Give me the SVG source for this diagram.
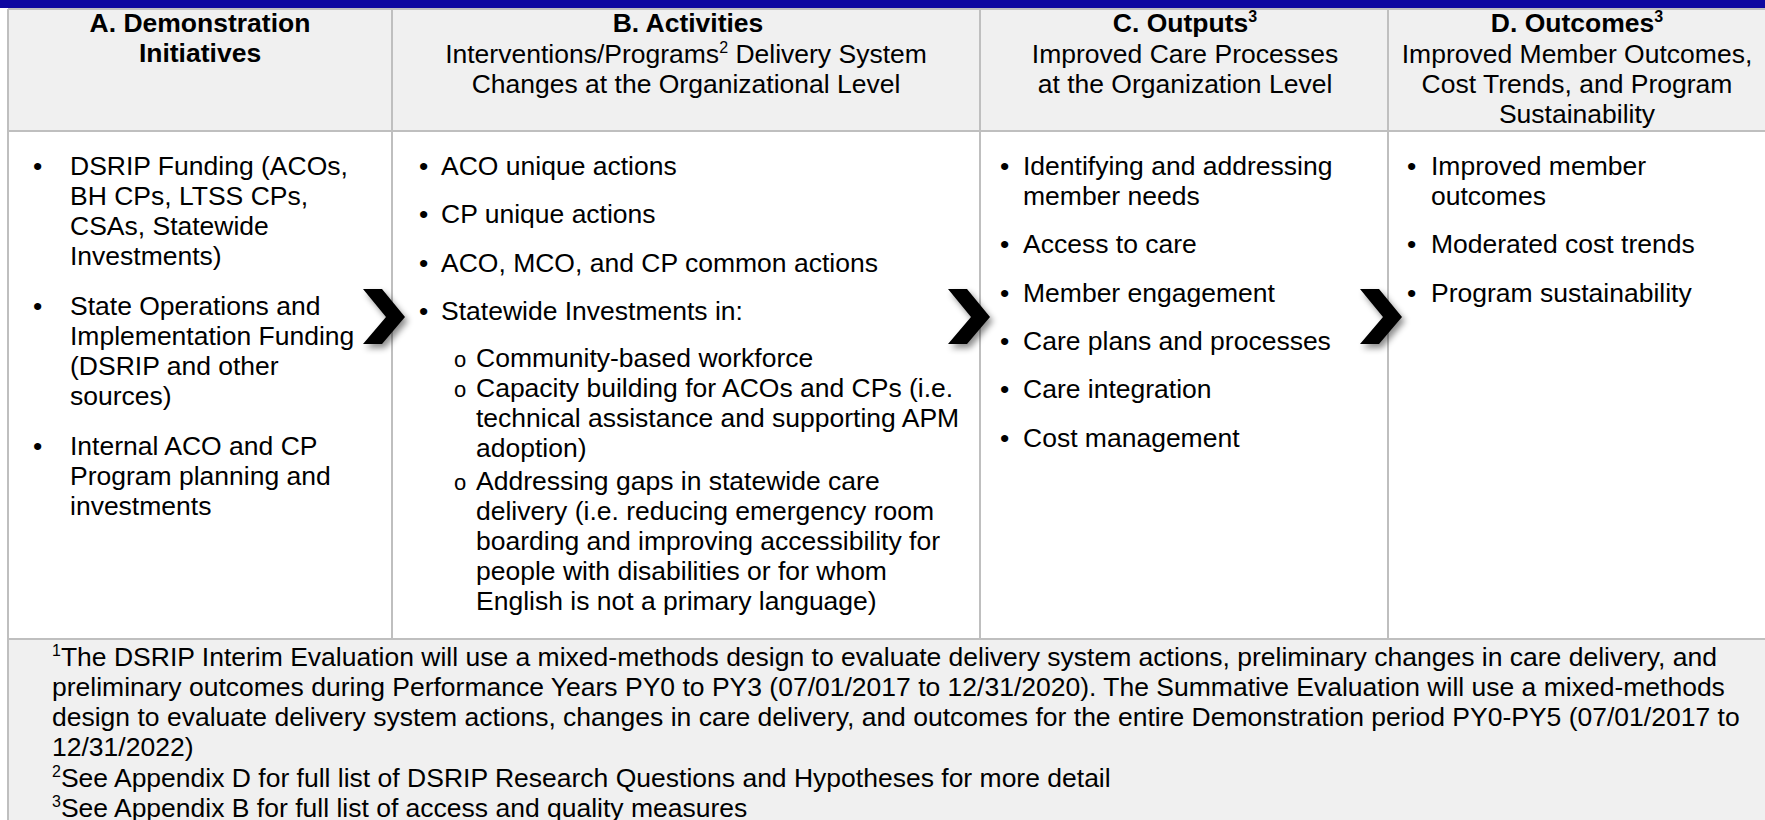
<svg xmlns="http://www.w3.org/2000/svg" width="1765" height="820" viewBox="0 0 1765 820">
<style>
text{font-family:"Liberation Sans",Arial,sans-serif;font-size:26.5px;fill:#000}
.h{text-anchor:middle}
.b{font-weight:bold}
.sub{font-size:22px}
.sup{font-size:16px}
.grid{stroke:#bfbfbf;stroke-width:2;fill:none}
</style>
<defs>
<filter id="sh" x="-30%" y="-30%" width="180%" height="180%">
<feDropShadow dx="3" dy="4" stdDeviation="3" flood-color="#000" flood-opacity="0.45"/>
</filter>
<path id="chev" d="M0,0 L19,0 L42,28 L19,55 L0,55 L23,28 Z"/>
</defs>
<rect x="0" y="0" width="1765" height="820" fill="#ffffff"/>
<rect x="0" y="0" width="1765" height="8" fill="#0e08a0"/>
<g id="background">
<rect x="8" y="9" width="1758" height="122" fill="#f0f0f0"/>
<rect x="8" y="131" width="1758" height="508" fill="#ffffff"/>
<rect x="8" y="639" width="1758" height="185" fill="#f0f0f0"/>
<path class="grid" d="M8,9 H1766 M8,131 H1766 M8,639 H1766 M8,9 V820 M392,9 V639 M980,9 V639 M1388,9 V639"/>
</g>
<g id="header-A">
<text class="h b" x="200" y="32">A. Demonstration</text>
<text class="h b" x="200" y="62">Initiatives</text>
</g>
<g id="header-B">
<text class="h b" x="688" y="32">B. Activities</text>
<text class="h" x="686" y="63">Interventions/Programs<tspan class="sup" dy="-10">2</tspan><tspan dy="10"> Delivery System</tspan></text>
<text class="h" x="686" y="93">Changes at the Organizational Level</text>
</g>
<g id="header-C">
<text class="h b" x="1185" y="32">C. Outputs<tspan class="sup" dy="-10">3</tspan></text>
<text class="h" x="1185" y="63">Improved Care Processes</text>
<text class="h" x="1185" y="93">at the Organization Level</text>
</g>
<g id="header-D">
<text class="h b" x="1577" y="32">D. Outcomes<tspan class="sup" dy="-10">3</tspan></text>
<text class="h" x="1577" y="63">Improved Member Outcomes,</text>
<text class="h" x="1577" y="93">Cost Trends, and Program</text>
<text class="h" x="1577" y="123">Sustainability</text>
</g>
<g id="node-A">
<text x="33" y="175">•</text>
<text x="70" y="175">DSRIP Funding (ACOs,</text>
<text x="70" y="205">BH CPs, LTSS CPs,</text>
<text x="70" y="235">CSAs, Statewide</text>
<text x="70" y="265">Investments)</text>
<text x="33" y="315">•</text>
<text x="70" y="315">State Operations and</text>
<text x="70" y="345">Implementation Funding</text>
<text x="70" y="375">(DSRIP and other</text>
<text x="70" y="405">sources)</text>
<text x="33" y="455">•</text>
<text x="70" y="455">Internal ACO and CP</text>
<text x="70" y="485">Program planning and</text>
<text x="70" y="515">investments</text>
</g>
<g id="node-B">
<text x="419" y="175">•</text>
<text x="441" y="175">ACO unique actions</text>
<text x="419" y="223">•</text>
<text x="441" y="223">CP unique actions</text>
<text x="419" y="272">•</text>
<text x="441" y="272">ACO, MCO, and CP common actions</text>
<text x="419" y="320">•</text>
<text x="441" y="320">Statewide Investments in:</text>
<text class="sub" x="454" y="367">o</text>
<text x="476" y="367">Community-based workforce</text>
<text class="sub" x="454" y="397">o</text>
<text x="476" y="397">Capacity building for ACOs and CPs (i.e.</text>
<text x="476" y="427">technical assistance and supporting APM</text>
<text x="476" y="457">adoption)</text>
<text class="sub" x="454" y="490">o</text>
<text x="476" y="490">Addressing gaps in statewide care</text>
<text x="476" y="520">delivery (i.e. reducing emergency room</text>
<text x="476" y="550">boarding and improving accessibility for</text>
<text x="476" y="580">people with disabilities or for whom</text>
<text x="476" y="610">English is not a primary language)</text>
</g>
<g id="node-C">
<text x="1000" y="175">•</text>
<text x="1023" y="175">Identifying and addressing</text>
<text x="1023" y="205">member needs</text>
<text x="1000" y="253">•</text>
<text x="1023" y="253">Access to care</text>
<text x="1000" y="302">•</text>
<text x="1023" y="302">Member engagement</text>
<text x="1000" y="350">•</text>
<text x="1023" y="350">Care plans and processes</text>
<text x="1000" y="398">•</text>
<text x="1023" y="398">Care integration</text>
<text x="1000" y="447">•</text>
<text x="1023" y="447">Cost management</text>
</g>
<g id="node-D">
<text x="1407" y="175">•</text>
<text x="1431" y="175">Improved member</text>
<text x="1431" y="205">outcomes</text>
<text x="1407" y="253">•</text>
<text x="1431" y="253">Moderated cost trends</text>
<text x="1407" y="302">•</text>
<text x="1431" y="302">Program sustainability</text>
</g>
<g id="connectors" filter="url(#sh)">
<use href="#chev" x="363" y="289"/>
<use href="#chev" x="948" y="289"/>
<use href="#chev" x="1360" y="289"/>
</g>
<g id="footnotes">
<text x="52" y="666"><tspan class="sup" dy="-10">1</tspan><tspan dy="10">The DSRIP Interim Evaluation will use a mixed-methods design to evaluate delivery system actions, preliminary changes in care delivery, and</tspan></text>
<text x="52" y="696">preliminary outcomes during Performance Years PY0 to PY3 (07/01/2017 to 12/31/2020). The Summative Evaluation will use a mixed-methods</text>
<text x="52" y="726">design to evaluate delivery system actions, changes in care delivery, and outcomes for the entire Demonstration period PY0-PY5 (07/01/2017 to</text>
<text x="52" y="756">12/31/2022)</text>
<text x="52" y="787"><tspan class="sup" dy="-10">2</tspan><tspan dy="10">See Appendix D for full list of DSRIP Research Questions and Hypotheses for more detail</tspan></text>
<text x="52" y="817"><tspan class="sup" dy="-10">3</tspan><tspan dy="10">See Appendix B for full list of access and quality measures</tspan></text>
</g>
</svg>
